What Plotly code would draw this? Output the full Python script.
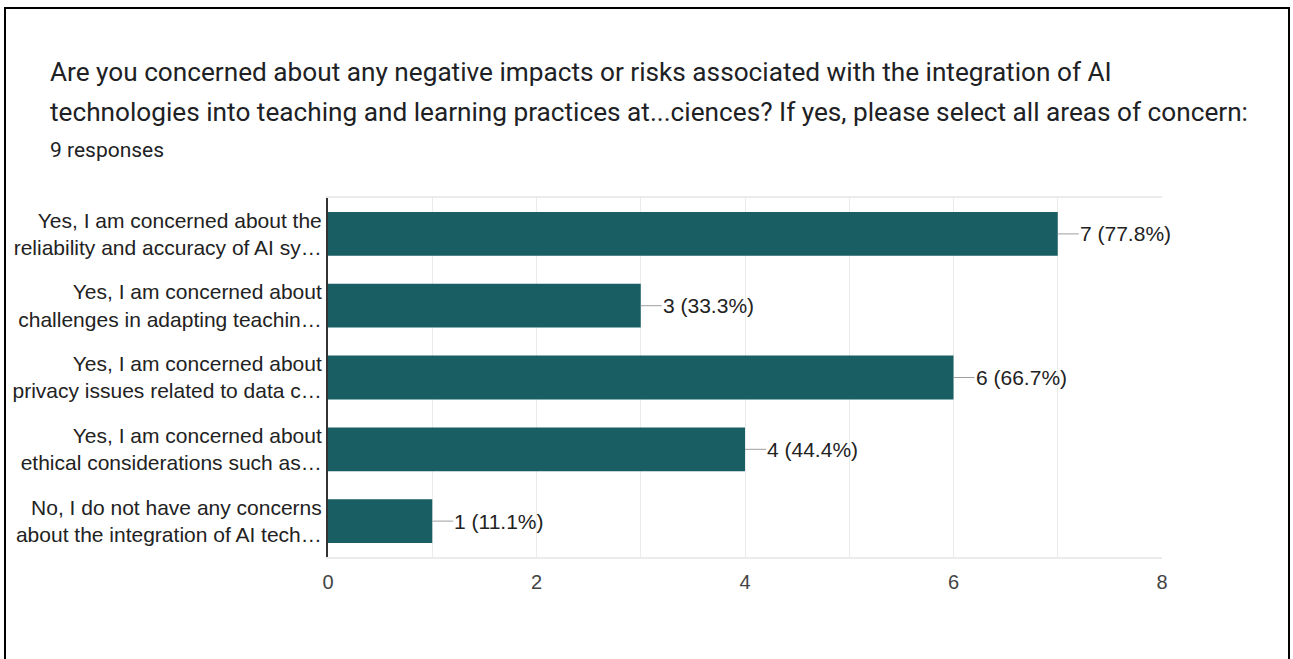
import plotly.graph_objects as go

title_lines = [
    "Are you concerned about any negative impacts or risks associated with the integration of AI",
    "technologies into teaching and learning practices at...ciences? If yes, please select all areas of concern:",
]
subtitle = "9 responses"
categories = [
    "Yes, I am concerned about the<br>reliability and accuracy of AI sy…",
    "Yes, I am concerned about<br>challenges in adapting teachin…",
    "Yes, I am concerned about<br>privacy issues related to data c…",
    "Yes, I am concerned about<br>ethical considerations such as…",
    "No, I do not have any concerns<br>about the integration of AI tech…",
]
counts = [7, 3, 6, 4, 1]
percents = [77.8, 33.3, 66.7, 44.4, 11.1]
x_ticks = [0, 2, 4, 6, 8]

BAR = "#185e63"
GRID = "#ebebeb"
W, H = 1293, 659
L, R, T, B = 328, 131, 198, 102
pw, ph = W - L - R, H - T - B


def px_x(p):
    return (p - L) / pw


def px_y(p):
    return (H - B - p) / ph


fig = go.Figure(go.Bar(
    x=counts, y=categories, orientation="h",
    marker=dict(color=BAR, line=dict(width=0)),
    width=0.61, hoverinfo="skip",
))

annotations = []
for c, cat, pct in zip(counts, categories, percents):
    annotations.append(dict(
        x=c, y=cat, xref="x", yref="y",
        text=f"{c} ({pct}%)", showarrow=True, arrowhead=0, arrowwidth=1,
        arrowcolor="#9e9e9e", ax=21, ay=0, xanchor="left", standoff=0,
        borderpad=0, font=dict(family="Arial, Liberation Sans", size=21, color="#222"),
    ))

annotations += [
    dict(x=px_x(48), y=px_y(72), xref="paper", yref="paper", text=title_lines[0],
         showarrow=False, xanchor="left", yanchor="middle",
         font=dict(family="Roboto", size=26.2, color="#202124")),
    dict(x=px_x(48), y=px_y(112), xref="paper", yref="paper", text=title_lines[1],
         showarrow=False, xanchor="left", yanchor="middle",
         font=dict(family="Roboto", size=26.2, color="#202124")),
    dict(x=px_x(48), y=px_y(150), xref="paper", yref="paper", text=subtitle,
         showarrow=False, xanchor="left", yanchor="middle",
         font=dict(family="Roboto", size=21, color="#202124")),
]

fig.update_layout(
    width=W, height=H,
    margin=dict(l=L, r=R, t=T, b=B),
    paper_bgcolor="white", plot_bgcolor="white",
    showlegend=False, bargap=0.39,
    annotations=annotations,
    shapes=[dict(type="rect", xref="paper", yref="paper",
                 x0=px_x(5), x1=px_x(1289), y0=px_y(8), y1=px_y(668),
                 line=dict(color="black", width=2), layer="above")],
    xaxis=dict(
        range=[0, 8], tickvals=x_ticks, showgrid=True, gridcolor=GRID, gridwidth=1,
        minor=dict(dtick=1, showgrid=True, gridcolor=GRID, gridwidth=1),
        zeroline=False, showline=True, linecolor=GRID, linewidth=2, mirror=True,
        tickfont=dict(family="Arial, Liberation Sans", size=20, color="#444"),
        ticks="", ticklabelstandoff=6,
    ),
    yaxis=dict(
        autorange="reversed", showgrid=False, zeroline=False,
        showline=True, linecolor="#333", linewidth=2,
        tickfont=dict(family="Arial, Liberation Sans", size=21, color="#222"),
        ticks="", ticklabelstandoff=0,
    ),
)

fig.write_html("out.html", config={"displayModeBar": False},
               post_script="document.body.style.margin='0';")
